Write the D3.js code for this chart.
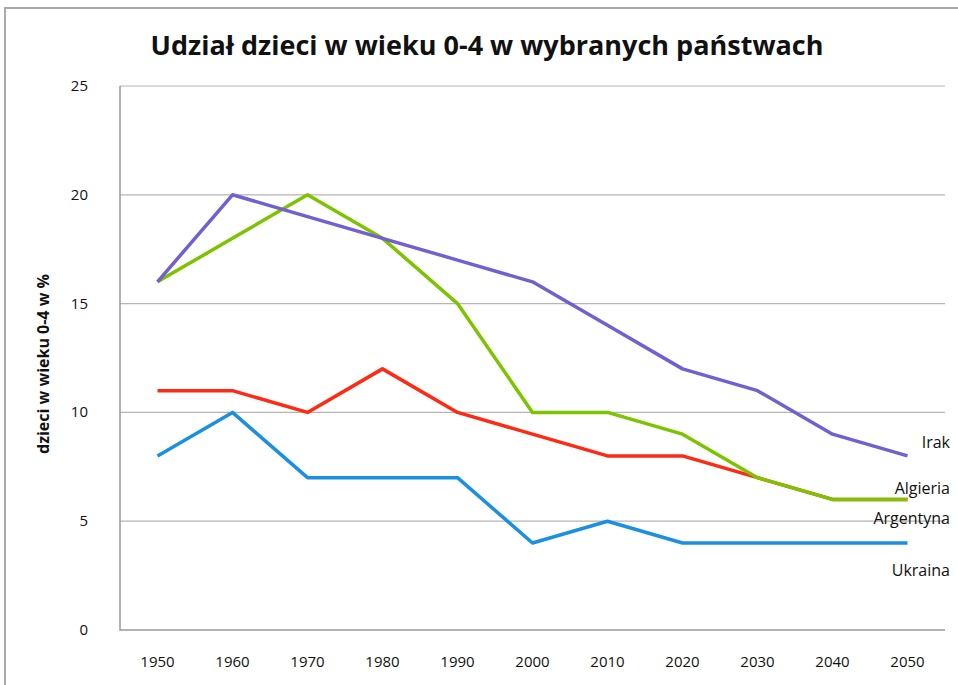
<!DOCTYPE html>
<html>
<head>
<meta charset="utf-8">
<script src="https://cdn.jsdelivr.net/npm/d3@7"></script>
<style>
body { margin: 0; background: #fff; }
text { font-family: "Open Sans", "DejaVu Sans", sans-serif; fill: #111; }
</style>
</head>
<body>
<div id="chart"></div>
<script>
var years = [1950, 1960, 1970, 1980, 1990, 2000, 2010, 2020, 2030, 2040, 2050];
var yTicks = [0, 5, 10, 15, 20, 25];
var argentyna = [11, 11, 10, 12, 10, 9, 8, 8, 7, 6, 6];
var ukraina = [8, 10, 7, 7, 7, 4, 5, 4, 4, 4, 4];
var algieria = [16, 18, 20, 18, 15, 10, 10, 9, 7, 6, 6];
var irak = [16, 20, 19, 18, 17, 16, 14, 12, 11, 9, 8];

function init() {
    var w = 958;
    var h = 685;
    var left = 120, right = 945, top = 86, bottom = 630;

    var svg = d3.select("#chart")
        .append("svg")
        .attr("width", w)
        .attr("height", h);

    // frame of the scanned picture
    svg.append("path")
        .attr("d", "M5,685 V8 H958")
        .attr("fill", "none")
        .attr("stroke", "#aaa")
        .attr("stroke-width", 2);

    var x = d3.scaleBand().domain(years).range([left, right]);
    var y = d3.scaleLinear().domain([0, 25]).range([bottom, top]);

    // grid
    svg.selectAll("line.grid")
        .data(yTicks.slice(1))
        .enter()
        .append("line")
        .attr("x1", left)
        .attr("x2", right)
        .attr("y1", function (d) { return y(d); })
        .attr("y2", function (d) { return y(d); })
        .attr("stroke", "#b5b5b5")
        .attr("stroke-width", 1.2);

    svg.append("path")
        .attr("d", "M" + left + "," + top + " V" + bottom + " H" + right)
        .attr("fill", "none")
        .attr("stroke", "#999")
        .attr("stroke-width", 1.5);

    // y tick labels
    svg.selectAll("text.yt")
        .data(yTicks)
        .enter()
        .append("text")
        .text(function (d) { return d; })
        .attr("x", 88)
        .attr("y", function (d) { return y(d) + 5; })
        .attr("text-anchor", "end")
        .attr("font-size", 15);

    // x tick labels
    svg.selectAll("text.xt")
        .data(years)
        .enter()
        .append("text")
        .text(function (d) { return d; })
        .attr("x", function (d) { return x(d) + x.bandwidth() / 2; })
        .attr("y", 667)
        .attr("text-anchor", "middle")
        .attr("font-size", 15);

    var line = d3.line()
        .x(function (d, i) { return x(years[i]) + x.bandwidth() / 2; })
        .y(function (d) { return y(d); });

    var series = [
        { name: "Argentyna", values: argentyna, color: "#ff2a14", labelAt: 5.1 },
        { name: "Ukraina", values: ukraina, color: "#1b8fe0", labelAt: 2.7 },
        { name: "Algieria", values: algieria, color: "#7cc400", labelAt: 6.5 },
        { name: "Irak", values: irak, color: "#735fd0", labelAt: 8.6 }
    ];

    svg.selectAll("path.series")
        .data(series)
        .enter()
        .append("path")
        .attr("d", function (d) { return line(d.values); })
        .attr("fill", "none")
        .attr("stroke", function (d) { return d.color; })
        .attr("stroke-width", 3.5)
        .attr("stroke-linejoin", "round");

    svg.selectAll("text.lab")
        .data(series)
        .enter()
        .append("text")
        .text(function (d) { return d.name; })
        .attr("x", 950)
        .attr("y", function (d) { return y(d.labelAt) + 5; })
        .attr("text-anchor", "end")
        .attr("font-size", 16);

    svg.append("text")
        .text("Udział dzieci w wieku 0-4 w wybranych państwach")
        .attr("x", 487)
        .attr("y", 55)
        .attr("text-anchor", "middle")
        .attr("font-size", 27)
        .attr("font-weight", "bold");

    svg.append("text")
        .text("dzieci w wieku 0-4 w %")
        .attr("transform", "translate(49,364) rotate(-90)")
        .attr("text-anchor", "middle")
        .attr("font-size", 16)
        .attr("font-weight", "bold");
}
window.onload = init;
</script>
</body>
</html>
